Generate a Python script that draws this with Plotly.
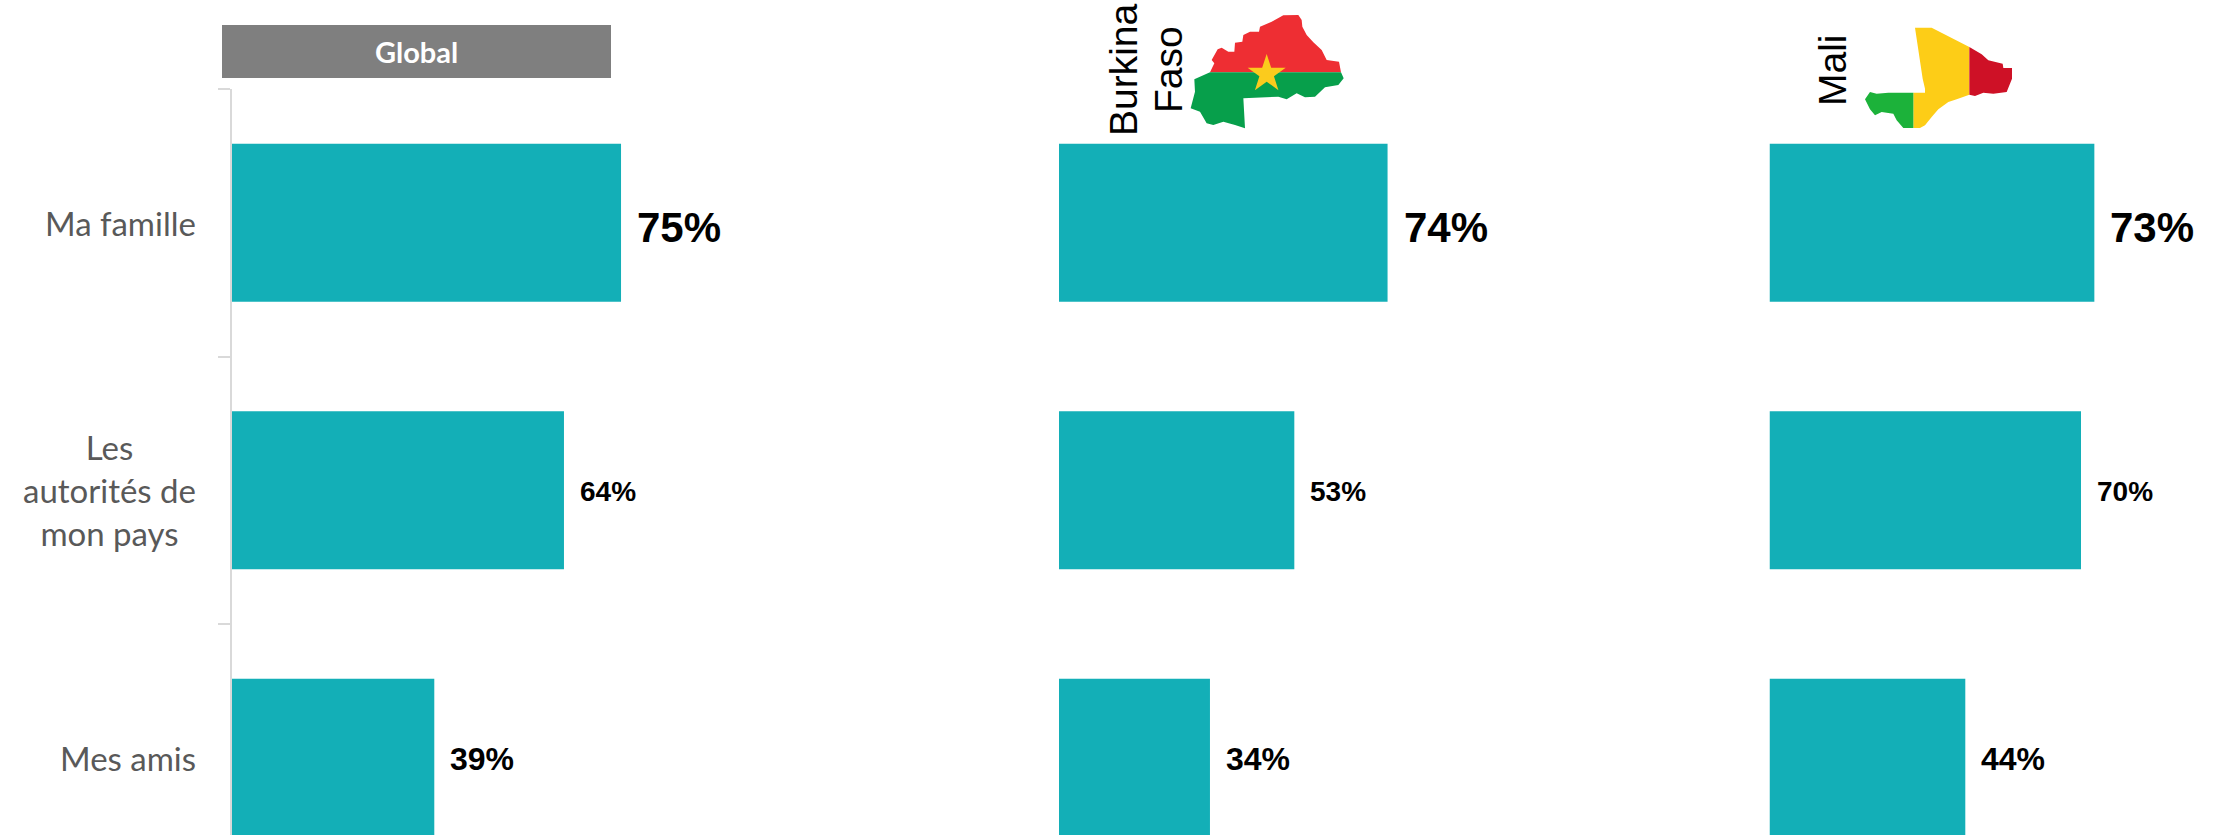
import math
import plotly.graph_objects as go

W, H = 2218, 835

categories = ["Ma famille", "Les<br>autorités de<br>mon pays", "Mes amis"]
global_values = [75, 64, 39]
burkina_values = [74, 53, 34]
mali_values = [73, 70, 44]
panel_names = ["Global", "Burkina", "Faso", "Mali"]
label_sizes = [42, 28, 32]

TEAL = "#13AFB7"
GREY = "#7F7F7F"


def px(x):
    return x / W


def py(y):
    return 1 - y / H


def poly(points, ox, oy, color):
    pts = [f"{px(ox + a / 3):.5f},{py(oy + b / 3):.5f}" for a, b in points]
    return dict(type="path", xref="paper", yref="paper", layer="above",
                path="M" + " L".join(pts) + " Z", fillcolor=color,
                line=dict(width=0))


def star(cx, cy, r_out, r_in):
    out = []
    for i in range(10):
        r = r_out if i % 2 == 0 else r_in
        ang = -math.pi / 2 + i * math.pi / 5
        out.append((cx + r * math.cos(ang), cy + r * math.sin(ang)))
    return out


# decorative outlines of the two flag maps (in 1/3 px relative to an origin)
bf_red = [(295, 16), (340, 15), (350, 30), (352, 50), (365, 75), (385, 97), (410, 120), (425, 150),
          (462, 155), (468, 187), (75, 187), (88, 160), (80, 150), (98, 118), (110, 113), (130, 125),
          (148, 125), (150, 98), (172, 95), (175, 75), (195, 65), (222, 65), (225, 50), (260, 35)]
bf_green = [(75, 187), (468, 187), (476, 205), (460, 225), (420, 232), (390, 260), (360, 262),
            (335, 250), (305, 268), (280, 260), (175, 265), (180, 355), (150, 345), (115, 335),
            (85, 345), (65, 340), (45, 305), (17, 295), (30, 245), (28, 208)]
ml_yellow = [(165, 17), (215, 17), (328, 75), (328, 218), (290, 232), (265, 240), (235, 262),
             (215, 285), (195, 310), (180, 318), (160, 318), (160, 212), (195, 212), (195, 200),
             (188, 170)]
ml_red = [(328, 75), (365, 97), (385, 115), (428, 125), (430, 138), (456, 138), (456, 170),
          (440, 210), (400, 215), (370, 212), (345, 222), (328, 218)]
ml_green = [(160, 212), (160, 318), (130, 318), (110, 295), (100, 275), (65, 270), (45, 280),
            (30, 262), (15, 232), (30, 210), (50, 215), (85, 212)]

# x axes: 0..100 % mapped on pixel widths
panels = [
    ("x", global_values),
    ("x2", burkina_values),
    ("x3", mali_values),
]

fig = go.Figure()
annotations = []
for axis, values in panels:
    fig.add_trace(go.Bar(x=values, y=[0, 1, 2], orientation="h", xaxis=axis, yaxis="y",
                         marker=dict(color=TEAL, line=dict(width=0)), width=0.59,
                         showlegend=False, hoverinfo="x+y"))
    for i, v in enumerate(values):
        annotations.append(dict(x=v, y=i, xref=axis, yref="y", xanchor="left", yanchor="middle",
                                xshift=14, yshift=-5 if i == 0 else -1, text=f"{v}%", showarrow=False,
                                font=dict(family="Liberation Sans", size=label_sizes[i], color="#000000", weight="bold")))

for i, c in enumerate(categories):
    annotations.append(dict(x=px(198), y=i, xref="paper", yref="y", xanchor="right", yanchor="middle",
                            align="center", text=c, showarrow=False,
                            font=dict(family="Lato", size=33, color="#595959")))

annotations.append(dict(x=px(416.5), y=py(52), xref="paper", yref="paper", xanchor="center", yanchor="middle",
                        text=panel_names[0], showarrow=False,
                        font=dict(family="Lato", size=29, color="#FFFFFF", weight="bold")))
for name, cx, cy in [(panel_names[1], 1123, 70), (panel_names[2], 1168, 70), (panel_names[3], 1832, 70)]:
    annotations.append(dict(x=px(cx), y=py(cy), xref="paper", yref="paper", xanchor="center", yanchor="middle",
                            text=name, showarrow=False, textangle=-90,
                            font=dict(family="Liberation Sans", size=39, color="#000000")))

shapes = [
    dict(type="rect", xref="paper", yref="paper", x0=px(222), x1=px(611), y0=py(25), y1=py(78),
         fillcolor=GREY, line=dict(width=0), layer="above"),
    poly(bf_red, 1185, 10, "#EE2E33"),
    poly(bf_green, 1185, 10, "#079F4B"),
    poly(star(245, 192, 60, 23), 1185, 10, "#FBCB1D"),
    poly(ml_yellow, 1860, 22, "#FDCD17"),
    poly(ml_red, 1860, 22, "#CE1126"),
    poly(ml_green, 1860, 22, "#1CB23A"),
]

hidden = dict(visible=False, range=[0, 100], fixedrange=True)
fig.update_layout(
    width=W, height=H, autosize=False,
    margin=dict(l=0, r=0, t=0, b=0),
    paper_bgcolor="white", plot_bgcolor="white",
    barmode="overlay",
    xaxis=dict(hidden, domain=[px(232), px(232 + 518.7)], anchor="y"),
    xaxis2=dict(hidden, domain=[px(1059), px(1059 + 444)], anchor="y"),
    xaxis3=dict(hidden, domain=[px(1769.5), px(1769.5 + 445)], anchor="y"),
    yaxis=dict(domain=[0, py(89)], range=[(835 - 89) / 267.5 - 0.5, -0.5], anchor="x",
               tickmode="array", tickvals=[-0.5, 0.5, 1.5], ticktext=["", "", ""],
               showline=True, linecolor="#D9D9D9", linewidth=2,
               ticks="outside", ticklen=12, tickcolor="#D9D9D9", tickwidth=2,
               showgrid=False, zeroline=False, fixedrange=True),
    annotations=annotations,
    shapes=shapes,
)

fig.write_html("out.html", config={"displayModeBar": False},
               post_script="document.body.style.margin='0';")
